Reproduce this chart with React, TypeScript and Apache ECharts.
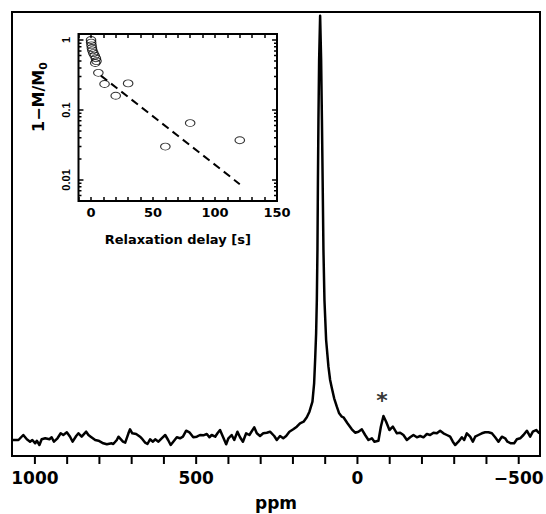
import React, { useEffect, useRef, useState } from 'react';
import * as echarts from 'echarts';

// ---- Main spectrum (ppm, intensity in arbitrary units, baseline ~ 0) ----
const spectrumPpm = [
  1068, 1051, 1036, 1025, 1015, 1008, 999, 994, 986, 979, 968, 955, 948, 941, 930, 920, 912, 901, 891, 883,
  872, 865, 855, 841, 834, 827, 813, 803, 788, 777, 762, 757, 746, 741, 727, 720, 710, 705, 698, 686,
  674, 669, 658, 651, 643, 634, 627, 617, 607, 596, 587, 579, 571, 560, 550, 541, 531, 521, 509, 498,
  488, 478, 467, 459, 452, 441, 434, 426, 417, 407, 400, 390, 382, 372, 364, 355, 345, 335, 320, 312,
  302, 292, 281, 271, 258, 250, 240, 230, 221, 211, 199, 188, 178, 167, 157, 148.8, 139.5, 134.3, 131.2, 128.1,
  125.9, 124.0, 122.5, 120.9, 118.8, 115.7, 112.6, 110.1, 107.9, 105.4, 102.3, 97.1, 89.9, 84.7, 79.4, 72.2, 63.9, 56.7, 48.4, 43.4,
  31, 17.4, 7.1, -3.1, -13.6, -23.9, -34.1, -44.7, -52.7, -65.1, -72.6, -80.6, -89, -99.2, -109.8, -122.2, -132.4, -142.6, -153.2, -163.4,
  -173.6, -184.2, -194.4, -204.7, -215.2, -225.4, -235.7, -246.2, -256.4, -266.7, -277.2, -287.4, -295.8, -303, -313.2, -323.7, -330.9, -339.2, -349.5, -357.8,
  -365, -375.2, -385.7, -396, -406.2, -416.8, -427, -437.2, -447.8, -458, -465.1, -475.7, -485.9, -494.3, -504.5, -514.7, -525.3, -535.5, -543.9, -554.1,
  -564.3,
];
const spectrumIntensity = [
  -3, -3, 2, -2.3, -4.7, -3, -6.3, -3.7, -8, -2.3, -1.3, -2.3, -0.3, -4.7, -1.3, 3.7, 2, 4.7, 0.3, -4.7,
  1, 3.7, 0.3, 5.3, 2, 0.3, -3, -3.7, -6.3, -7.3, -6.3, -7, -3, 0.3, -4.7, -5.7, 3.7, 7.7, 3.7, 3,
  0.3, -1.3, -5.7, -7, -2.3, -4.7, -2.3, -4.7, -1.3, 2, -3, -8, -4.7, -0.3, -1.3, 0.3, 6.3, 4.7, -0.3, 0.3,
  2, 1.7, 3, -0.3, 2, 0.3, 3.7, 7, 0.3, -7.3, -1.3, 2, -3, 5.3, -0.3, -4.7, 3.7, 2, 9.7, 3.7,
  1, 3.7, 4.3, 5.3, 1, -3, 1, -1.3, 1, 5.3, 7.7, 10.3, 13.7, 15.3, 19.7, 25.3, 35.3, 53.7, 77, 103.7,
  137, 187, 257, 317, 377, 421.3, 377, 317, 257, 187, 137, 97, 70.3, 57, 49, 38.7, 30.3, 23.7, 20.3, 19.7,
  13.7, 7.7, 4.3, 5.3, 7.7, 2, -3, -1.3, -4.7, -3.7, 10.3, 21, 15.3, 7, 10.3, 3.7, 4.3, 2, -3, -0.3,
  2, -0.3, 1, -0.3, 3, 2, 4.3, 3.7, 6.3, 3.7, 2, 0.3, -4.7, -8, -4.7, -0.3, -3, 3.7, 0.3, -4.7,
  0.3, 2, 3.7, 4.7, 4.7, 3.7, -0.3, -4.7, 0.3, -1.3, -4.7, -6.3, -6.3, -2.3, -1.3, 2, 6.3, 0.3, 5.3, 7,
  3.7,
];
const asteriskPpm = -76;
const asteriskIntensity = 25;
const mainTickValues = [1000, 900, 800, 700, 600, 500, 400, 300, 200, 100, 0, -100, -200, -300, -400, -500];
const mainTickLabels = [1000, 500, 0, -500];

// ---- Inset: relaxation data ----
const delays = [0.1, 0.2, 0.5, 0.8, 1.2, 2, 3, 4, 3.5, 4.5, 6, 11, 20, 30, 60, 80, 120];
const relaxation = [1.0, 0.92, 0.84, 0.77, 0.71, 0.65, 0.6, 0.55, 0.47, 0.5, 0.34, 0.235, 0.16, 0.24, 0.03, 0.065, 0.037];
const fitDelays = [8, 120];
const fitValues = [0.31, 0.0087];
const insetYMajorTicks = [0.01, 0.1, 1];
const insetYMinorTicks = [
  0.005, 0.006, 0.007, 0.008, 0.009,
  0.02, 0.03, 0.04, 0.05, 0.06, 0.07, 0.08, 0.09,
  0.2, 0.3, 0.4, 0.5, 0.6, 0.7, 0.8, 0.9,
];
const insetYLabels = ['0.01', '0.1', '1'];

const FONT = 'DejaVu Sans';
const MAIN_Y_MIN = -19;
const MAIN_Y_MAX = 425;
const MAIN_X_MIN = -566;
const MAIN_X_MAX = 1071;
const INSET_X_MIN = -10;
const INSET_X_MAX = 150;
const INSET_Y_MIN = 0.005;
const INSET_Y_MAX = 1.22;
const INSET_MAJOR_LEN = 4; // x units (about 5 px)
const INSET_MINOR_LEN = 2.4; // about 3 px
const W = 546;
const H = 514;
const GRID_LEFT = 12;
const GRID_RIGHT = 6;
const GRID_TOP = 12;
const GRID_BOTTOM = 58;

const tickLine = { color: '#000', width: 1.5 };

const insetYTickData = (values: number[], len: number) => {
  const out: any[] = [];
  values.forEach((v) => {
    out.push([INSET_X_MIN, v], [INSET_X_MIN + len, v], [INSET_X_MIN + len, '-']);
    out.push([INSET_X_MAX - len, v], [INSET_X_MAX, v], [INSET_X_MAX, '-']);
  });
  return out;
};

const insetLogAxis = (position: 'left' | 'right', labels: boolean): any => ({
  gridIndex: 1, type: 'log', logBase: 10, min: INSET_Y_MIN, max: INSET_Y_MAX, position,
  axisLine: { show: false, onZero: false }, splitLine: { show: false },
  minorTick: { show: false }, minorSplitLine: { show: false },
  axisTick: { show: false },
  axisLabel: labels
    ? {
        show: true, rotate: 90, margin: 7, color: '#000', fontSize: 11, fontWeight: 'bold',
        fontFamily: "'Liberation Sans', Arial, sans-serif",
        customValues: insetYMajorTicks,
        formatter: (v: number) => {
          const e = Math.round(Math.log10(v));
          const idx = insetYMajorTicks.findIndex((t) => Math.round(Math.log10(t)) === e);
          return idx >= 0 ? insetYLabels[idx] : '';
        },
      }
    : { show: false },
});

const option: any = {
  animation: false,
  textStyle: { fontFamily: FONT },
  grid: [
    {
      left: GRID_LEFT, top: GRID_TOP, right: GRID_RIGHT, bottom: GRID_BOTTOM, show: true,
      borderColor: '#000', borderWidth: 2, backgroundColor: 'transparent',
      containLabel: false, outerBoundsMode: 'none',
    },
    {
      left: 78.5, top: 34, width: 198.5, height: 167, show: true, borderColor: '#000', borderWidth: 2,
      backgroundColor: '#fff', containLabel: false, outerBoundsMode: 'none',
    },
  ],
  xAxis: [
    {
      gridIndex: 0, type: 'value', inverse: true, min: MAIN_X_MIN, max: MAIN_X_MAX, position: 'bottom',
      axisLine: { show: false, onZero: false }, splitLine: { show: false },
      axisTick: { show: false },
      axisLabel: {
        margin: 13, color: '#000', fontSize: 17, fontWeight: 'bold', fontFamily: FONT,
        customValues: mainTickLabels,
        formatter: (v: number) => String(v).replace('-', '\u2212'),
      },
      name: 'ppm', nameLocation: 'middle', nameGap: 38,
      nameTextStyle: { color: '#000', fontSize: 17, fontWeight: 'bold', fontFamily: FONT },
    },
    {
      gridIndex: 1, type: 'value', min: INSET_X_MIN, max: INSET_X_MAX, interval: 10, position: 'bottom',
      axisLine: { show: false, onZero: false }, splitLine: { show: false },
      axisTick: { show: true, inside: true, length: 4, lineStyle: tickLine },
      axisLabel: {
        margin: 5, color: '#000', fontSize: 13, fontWeight: 'bold', fontFamily: FONT,
        formatter: (v: number) => (Math.abs(v % 50) < 1e-9 ? String(v) : ''),
      },
      name: 'Relaxation delay [s]', nameLocation: 'middle', nameGap: 32,
      nameTextStyle: { color: '#000', fontSize: 13, fontWeight: 'bold', fontFamily: FONT },
    },
    {
      gridIndex: 1, type: 'value', position: 'top', min: INSET_X_MIN, max: INSET_X_MAX, interval: 10,
      axisLine: { show: false, onZero: false }, splitLine: { show: false },
      axisTick: { show: true, inside: true, length: 4, lineStyle: tickLine },
      axisLabel: { show: false },
    },
  ],
  yAxis: [
    {
      gridIndex: 0, type: 'value', min: MAIN_Y_MIN, max: MAIN_Y_MAX, show: false,
      axisLine: { show: false, onZero: false }, splitLine: { show: false },
    },
    insetLogAxis('left', true),
    insetLogAxis('right', false),
  ],
  graphic: [
    {
      type: 'text', x: 38, y: 97, rotation: Math.PI / 2, z: 10,
      style: {
        text: '1\u2212M/M{s|0}',
        fill: '#000',
        fontSize: 16, fontWeight: 'bold', fontFamily: FONT,
        align: 'center', verticalAlign: 'middle',
        textAlign: 'center', textVerticalAlign: 'middle',
        lineHeight: 22,
        rich: {
          s: { fontSize: 11, fontWeight: 'bold', fontFamily: FONT, fill: '#000', verticalAlign: 'bottom', lineHeight: 22 },
        },
      },
    },
  ],
  series: [
    {
      type: 'line', xAxisIndex: 0, yAxisIndex: 0,
      data: spectrumPpm.map((p, i) => [p, spectrumIntensity[i]]),
      showSymbol: false, symbol: 'none', silent: true, z: 3,
      lineStyle: { color: '#000', width: 2.5, join: 'round' },
    },
    {
      type: 'scatter', xAxisIndex: 0, yAxisIndex: 0,
      data: [[asteriskPpm, asteriskIntensity]],
      symbolSize: 1, itemStyle: { color: 'rgba(0,0,0,0)' }, silent: true,
      label: {
        show: true, position: 'top', distance: 0, formatter: '*', fontSize: 22, fontWeight: 'bold',
        color: '#000', fontFamily: FONT,
      },
    },
    {
      type: 'scatter', xAxisIndex: 1, yAxisIndex: 1,
      data: delays.map((d, i) => [d, relaxation[i]]),
      symbol: 'path://M0,5A5,5,0,1,1,10,5A5,5,0,1,1,0,5Z',
      symbolSize: [9.5, 7], silent: true, z: 4,
      itemStyle: { color: 'rgba(0,0,0,0)', borderColor: '#000', borderWidth: 1 },
    },
    {
      type: 'line', xAxisIndex: 1, yAxisIndex: 1,
      data: fitDelays.map((d, i) => [d, fitValues[i]]),
      showSymbol: false, symbol: 'none', silent: true, z: 3,
      lineStyle: { color: '#000', width: 2, type: [8, 5] },
    },
    {
      type: 'line', xAxisIndex: 1, yAxisIndex: 1, data: insetYTickData(insetYMajorTicks, INSET_MAJOR_LEN),
      showSymbol: false, symbol: 'none', silent: true, connectNulls: false, z: 5,
      lineStyle: { color: '#000', width: 1.5, cap: 'butt' },
    },
    {
      type: 'line', xAxisIndex: 1, yAxisIndex: 1, data: insetYTickData(insetYMinorTicks, INSET_MINOR_LEN),
      showSymbol: false, symbol: 'none', silent: true, connectNulls: false, z: 5,
      lineStyle: { color: '#000', width: 1.5, cap: 'butt' },
    },
  ],
};

type Tick = { x: number; y: number };

export default function App() {
  const ref = useRef<HTMLDivElement>(null);
  const [ticks, setTicks] = useState<Tick[]>([]);
  useEffect(() => {
    const chart = echarts.init(ref.current as HTMLDivElement, null, { renderer: 'svg' });
    chart.setOption(option);
    // Positions of the outward main-axis ticks, taken from the chart's own x scale.
    const out: Tick[] = mainTickValues.map((v) => {
      let p: any = null;
      try {
        p = chart.convertToPixel({ gridIndex: 0 } as any, [v, MAIN_Y_MIN]);
      } catch (e) {
        p = null;
      }
      if (p && isFinite(Number(p[0])) && isFinite(Number(p[1]))) {
        return { x: Number(p[0]), y: Number(p[1]) };
      }
      const plotW = W - GRID_LEFT - GRID_RIGHT;
      return {
        x: GRID_LEFT + ((MAIN_X_MAX - v) / (MAIN_X_MAX - MAIN_X_MIN)) * plotW,
        y: H - GRID_BOTTOM,
      };
    });
    setTicks(out);
    return () => chart.dispose();
  }, []);
  return (
    <div style={{ position: 'fixed', left: 0, top: 0, width: W, height: H, background: '#fff' }}>
      <div ref={ref} style={{ position: 'absolute', left: 0, top: 0, width: W, height: H }} />
      <svg
        width={W}
        height={H}
        style={{ position: 'absolute', left: 0, top: 0, pointerEvents: 'none' }}
      >
        {ticks.map((t, i) => (
          <line key={i} x1={t.x} y1={t.y} x2={t.x} y2={t.y + 8} stroke="#000" strokeWidth={2} />
        ))}
      </svg>
    </div>
  );
}
